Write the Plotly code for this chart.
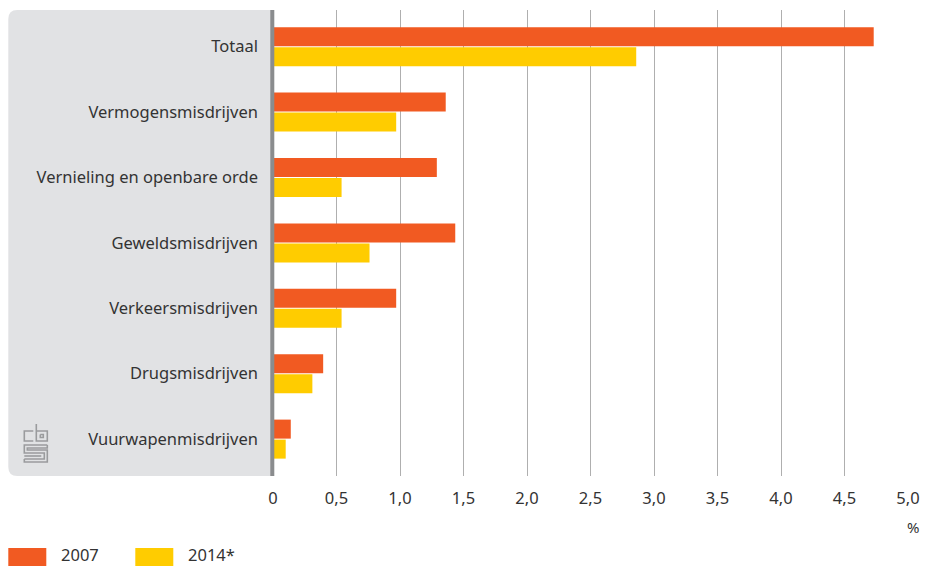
import plotly.graph_objects as go

categories = ["Totaal", "Vermogensmisdrijven", "Vernieling en openbare orde",
              "Geweldsmisdrijven", "Verkeersmisdrijven", "Drugsmisdrijven",
              "Vuurwapenmisdrijven"]
values_2007 = [4.73, 1.36, 1.29, 1.435, 0.97, 0.395, 0.14]
values_2014 = [2.86, 0.97, 0.54, 0.76, 0.54, 0.31, 0.10]
series_names = ["2007", "2014*"]
x_tickvals = [0, 0.5, 1, 1.5, 2, 2.5, 3, 3.5, 4, 4.5, 5]
x_ticktext = ["0", "0,5", "1,0", "1,5", "2,0", "2,5", "3,0", "3,5", "4,0", "4,5", "5,0"]

ORANGE = "#F15A22"
YELLOW = "#FFCC00"
PANEL = "#E1E2E4"
AXIS = "#8A8C8E"
GRID = "#AFAFAF"
TEXT = "#333333"
FONT = "Noto Sans"
FS = 16.5

W, H = 928, 566
L, R, T, B = 272.7, 20.3, 10, 90
PW, PH = W - L - R, H - T - B

def px(x):
    return (x - L) / PW

def py(y):
    return (H - B - y) / PH

fig = go.Figure()
fig.add_trace(go.Bar(y=categories, x=values_2007, name=series_names[0], orientation="h",
                     marker=dict(color=ORANGE, line=dict(width=0)), showlegend=False))
fig.add_trace(go.Bar(y=categories, x=values_2014, name=series_names[1], orientation="h",
                     marker=dict(color=YELLOW, line=dict(width=0)), showlegend=False))

shapes = []
# grey panel with rounded left corners
x0, x1, y0, y1, r = px(8), px(271), py(10), py(476), 9
rx, ry = r / PW, r / PH
path = (f"M {x1},{y0} L {x0+rx},{y0} Q {x0},{y0} {x0},{y0-ry} "
        f"L {x0},{y1+ry} Q {x0},{y1} {x0+rx},{y1} L {x1},{y1} Z")
shapes.append(dict(type="path", xref="paper", yref="paper", path=path,
                   fillcolor=PANEL, line=dict(width=0), layer="below"))
# axis line
shapes.append(dict(type="rect", xref="paper", yref="paper", x0=px(270), x1=px(274),
                   y0=py(476), y1=py(10), fillcolor=AXIS, line=dict(width=0), layer="above"))
# legend swatches
shapes.append(dict(type="rect", xref="paper", yref="paper", x0=px(8), x1=px(46),
                   y0=py(566), y1=py(548), fillcolor=ORANGE, line=dict(width=0)))
shapes.append(dict(type="rect", xref="paper", yref="paper", x0=px(135), x1=px(173),
                   y0=py(566), y1=py(548), fillcolor=YELLOW, line=dict(width=0)))

# CBS logo (approximate)
LOGO = "#9A9B9D"
logo_paths = [
    [(33, 431), (24, 431), (24, 441), (33, 441)],
    [(36, 424), (36, 441), (47, 441), (47, 431), (36, 431)],
    [(40, 434.5), (43, 434.5), (43, 437.5), (40, 437.5), (40, 434.5)],
    [(47, 445), (24, 445), (24, 453), (44, 453), (44, 459), (24, 459)],
    [(47, 445), (47, 448), (27, 448), (27, 450), (47, 450), (47, 462), (24, 462), (24, 459)],
    [(24, 456), (41, 456)],
]
for pts in logo_paths:
    d = "M " + " L ".join(f"{px(a)},{py(b)}" for a, b in pts)
    shapes.append(dict(type="path", xref="paper", yref="paper", path=d,
                       line=dict(color=LOGO, width=1.6), layer="above"))

annotations = [
    dict(text="%", xref="paper", yref="paper", x=px(913), y=py(527), showarrow=False,
         xanchor="center", yanchor="middle", font=dict(family=FONT, size=15, color=TEXT)),
    dict(text=series_names[0], xref="paper", yref="paper", x=px(59), y=py(554), showarrow=False,
         xanchor="left", yanchor="middle", font=dict(family=FONT, size=FS, color=TEXT)),
    dict(text=series_names[1], xref="paper", yref="paper", x=px(186), y=py(554), showarrow=False,
         xanchor="left", yanchor="middle", font=dict(family=FONT, size=FS, color=TEXT)),
]

fig.update_layout(
    width=W, height=H,
    margin=dict(l=L, r=R, t=T, b=B, autoexpand=False),
    paper_bgcolor="white", plot_bgcolor="rgba(0,0,0,0)",
    barmode="group", bargap=0.388, bargroupgap=0.05,
    font=dict(family=FONT, size=FS, color=TEXT),
    shapes=shapes, annotations=annotations,
)
fig.update_xaxes(range=[0, 5], tickvals=x_tickvals, ticktext=x_ticktext,
                 showgrid=True, gridcolor=GRID, gridwidth=1, zeroline=False,
                 showline=False, ticks="", ticklabelstandoff=10,
                 tickfont=dict(family=FONT, size=FS, color=TEXT), fixedrange=True)
fig.update_yaxes(categoryorder="array", categoryarray=categories,
                 range=[6.564, -0.561], showgrid=False, zeroline=False, showline=False,
                 ticks="", ticklabelstandoff=14,
                 tickfont=dict(family=FONT, size=FS, color=TEXT), fixedrange=True)

fig.write_html("out.html", config=dict(displayModeBar=False),
               post_script="document.body.style.margin='0';document.body.style.overflow='hidden';")
